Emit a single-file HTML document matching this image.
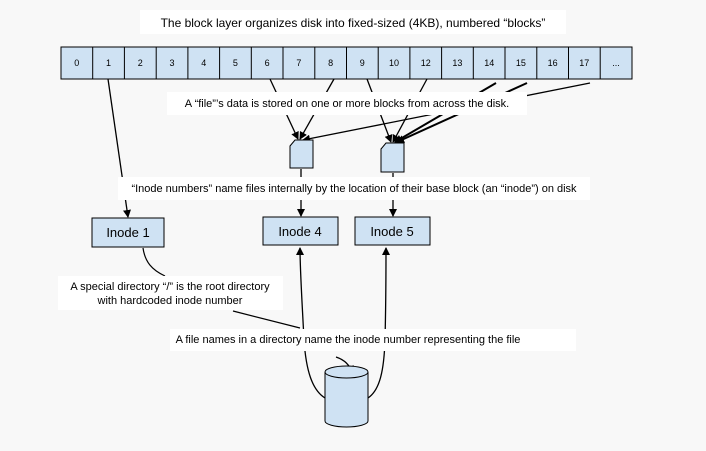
<!DOCTYPE html>
<html><head><meta charset="utf-8"><style>
body{margin:0;background:#f8f8f8;width:706px;height:446px;overflow:hidden;font-family:"Liberation Sans",sans-serif;}
</style></head><body>
<svg width="706" height="446" xmlns="http://www.w3.org/2000/svg" font-family="Liberation Sans, sans-serif">
<defs><marker id="a" markerWidth="8" markerHeight="8" refX="7" refY="4" orient="auto" markerUnits="userSpaceOnUse"><path d="M0,0 L8,4 L0,8 z" fill="#000"/></marker></defs>
<rect width="706" height="446" fill="#f8f8f8"/>
<rect x="140" y="10" width="426" height="24" fill="#fff"/>
<text x="353" y="27" font-size="12" text-anchor="middle">The block layer organizes disk into fixed-sized (4KB), numbered “blocks”</text>
<g stroke="#000" stroke-width="1" fill="#cfe2f3" font-size="9">
<rect x="61" y="47" width="571" height="32"/>
</g>
<g stroke="#000" stroke-width="1">
<line x1="92.7" y1="47" x2="92.7" y2="79"/><line x1="124.4" y1="47" x2="124.4" y2="79"/><line x1="156.2" y1="47" x2="156.2" y2="79"/><line x1="187.9" y1="47" x2="187.9" y2="79"/><line x1="219.6" y1="47" x2="219.6" y2="79"/><line x1="251.3" y1="47" x2="251.3" y2="79"/><line x1="283" y1="47" x2="283" y2="79"/><line x1="314.8" y1="47" x2="314.8" y2="79"/><line x1="346.5" y1="47" x2="346.5" y2="79"/><line x1="378.2" y1="47" x2="378.2" y2="79"/><line x1="409.9" y1="47" x2="409.9" y2="79"/><line x1="441.6" y1="47" x2="441.6" y2="79"/><line x1="473.3" y1="47" x2="473.3" y2="79"/><line x1="505" y1="47" x2="505" y2="79"/><line x1="536.8" y1="47" x2="536.8" y2="79"/><line x1="568.5" y1="47" x2="568.5" y2="79"/><line x1="600.2" y1="47" x2="600.2" y2="79"/>
</g>
<g font-size="9" text-anchor="middle">
<text x="76.8" y="66">0</text><text x="108.5" y="66">1</text><text x="140.3" y="66">2</text><text x="172" y="66">3</text><text x="203.7" y="66">4</text><text x="235.4" y="66">5</text><text x="267.1" y="66">6</text><text x="298.9" y="66">7</text><text x="330.6" y="66">8</text><text x="362.3" y="66">9</text><text x="394" y="66">10</text><text x="425.7" y="66">12</text><text x="457.4" y="66">13</text><text x="489.2" y="66">14</text><text x="520.9" y="66">15</text><text x="552.6" y="66">16</text><text x="584.3" y="66">17</text><text x="616" y="66">...</text>
</g>
<g stroke="#000" stroke-width="1.3" fill="none" marker-end="url(#a)">
<line x1="270" y1="79" x2="298" y2="139"/>
<line x1="334" y1="79" x2="300" y2="139"/>
<line x1="590" y1="83" x2="303" y2="140"/>
<line x1="367" y1="79" x2="391" y2="142"/>
<line x1="427" y1="79" x2="393" y2="142"/>
<line x1="496" y1="83" x2="395" y2="142" stroke-width="2"/>
<line x1="527" y1="83" x2="397" y2="142" stroke-width="2"/>
<line x1="108" y1="79" x2="128" y2="217"/>
<line x1="301" y1="169" x2="301" y2="216"/>
<line x1="393" y1="173" x2="393" y2="216"/>
<path d="M325 398 C312 390,306 370,304 340 C302 300,300 270,300 248"/>
<path d="M368 398 C380 390,384 370,385 340 C386 300,386 270,386 248"/>
<path d="M336 357 C345 360,350 365,352 373"/>
</g>
<path d="M143 248 C145 262,152 270,165 276" stroke="#000" fill="none" stroke-width="1.2"/>
<path d="M233 311 L300 328" stroke="#000" fill="none" stroke-width="1.2"/>
<rect x="167" y="92" width="360" height="23" fill="#fff"/>
<text x="347" y="107" font-size="11" text-anchor="middle">A “file”’s data is stored on one or more blocks from across the disk.</text>
<path d="M290 146 L295 140 L313 140 L313 168 L290 168 Z" fill="#cfe2f3" stroke="#000"/>
<path d="M381 149 L386 143 L404 143 L404 172 L381 172 Z" fill="#cfe2f3" stroke="#000"/>
<rect x="118" y="177" width="472" height="23" fill="#fff"/>
<text x="354" y="192" font-size="11" text-anchor="middle">“Inode numbers” name files internally by the location of their base block (an “inode”) on disk</text>
<g fill="#cfe2f3" stroke="#000"><rect x="92" y="218" width="72" height="29"/><rect x="263" y="217" width="75" height="28"/><rect x="355" y="217" width="75" height="28"/></g>
<g font-size="13" text-anchor="middle"><text x="128" y="237">Inode 1</text><text x="300" y="236">Inode 4</text><text x="392" y="236">Inode 5</text></g>
<rect x="58" y="276" width="225" height="34" fill="#fff"/>
<text x="170" y="290" font-size="11" text-anchor="middle">A special directory “/” is the root directory</text>
<text x="170" y="304" font-size="11" text-anchor="middle">with hardcoded inode number</text>
<rect x="170" y="329" width="406" height="22" fill="#fff"/>
<text x="348" y="343" font-size="11" text-anchor="middle">A file names in a directory name the inode number representing the file</text>
<path d="M325 372 L325 421 A21.5 6 0 0 0 368 421 L368 372" fill="#cfe2f3" stroke="#000"/>
<ellipse cx="346.5" cy="372" rx="21.5" ry="6" fill="#cfe2f3" stroke="#000"/>
</svg>
</body></html>
